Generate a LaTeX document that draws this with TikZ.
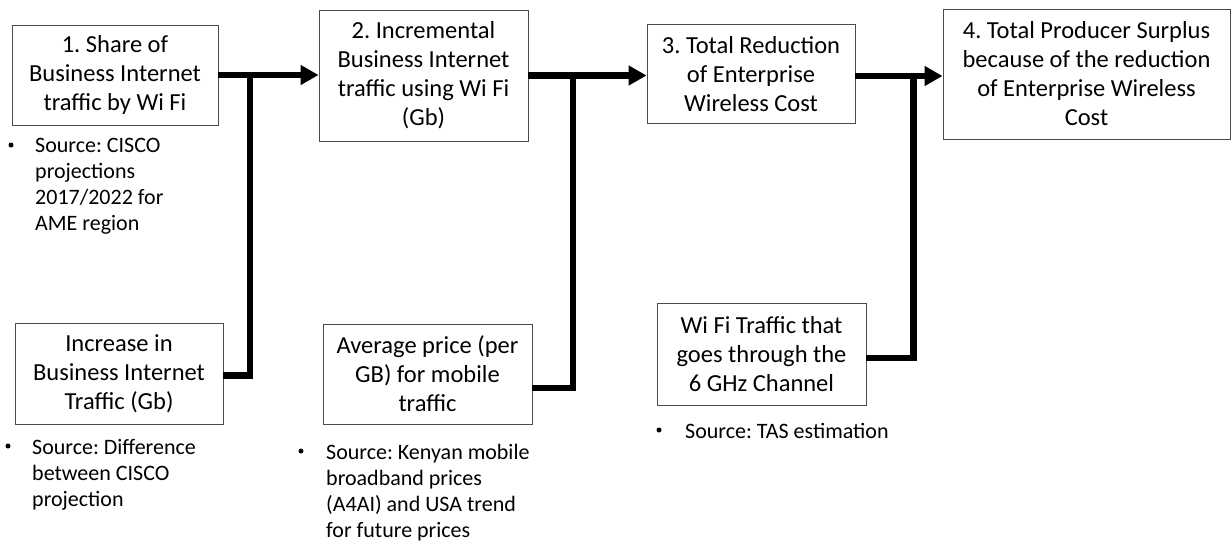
\documentclass[tikz,border=0pt]{standalone}
\usepackage{fontspec}
\setmainfont{Carlito}
\usetikzlibrary{arrows.meta}
\tikzset{
  stepbox/.style={draw=black!70, line width=0.9pt, align=center, inner sep=2pt,
    font=\fontsize{24.5}{29}\selectfont},
  note/.style={anchor=north west, align=left, inner sep=0pt,
    font=\fontsize{22}{26}\selectfont},
  dot/.style={circle, fill, inner sep=0pt, minimum size=5pt},
  link/.style={line width=6.5pt},
  feed/.style={link, -{Triangle[length=18pt,width=19pt]}}
}
\frenchspacing
\begin{document}
\begin{tikzpicture}[x=1pt,y=1pt]
  \useasboundingbox (0,0) rectangle (1231,-541);
  % main chain
  \node[stepbox, minimum width=206pt, minimum height=100pt] (b1) at (115,-75)
    {1. Share of\\Business Internet\\traffic by Wi Fi};
  \node[stepbox, minimum width=209pt, minimum height=131pt] (b2) at (423.5,-75.5)
    {2. Incremental\\Business Internet\\traffic using Wi Fi\\(Gb)};
  \node[stepbox, minimum width=208pt, minimum height=99pt] (b3) at (751,-74)
    {3. Total Reduction\\of Enterprise\\Wireless Cost};
  \node[stepbox, minimum width=287pt, minimum height=130pt] (b4) at (1086.5,-74)
    {4. Total Producer Surplus\\because of the reduction\\of Enterprise Wireless\\Cost};
  % inputs
  \node[stepbox, minimum width=208pt, minimum height=101pt] (b5) at (119,-373.5)
    {Increase in\\Business Internet\\Traffic (Gb)};
  \node[stepbox, minimum width=209pt, minimum height=100pt] (b6) at (427.5,-374)
    {Average price (per\\GB) for mobile\\traffic};
  \node[stepbox, minimum width=209pt, minimum height=102pt] (b7) at (761.5,-354)
    {Wi Fi Traffic that\\goes through the\\6 GHz Channel};
  % sources
  \node[dot] (d1) at (11,-145) {};
  \node[note] (s1) at (35,-138) {Source: CISCO\\projections\\2017/2022 for\\AME region};
  \node[dot] (d5) at (8,-446) {};
  \node[note] (s5) at (32,-439) {Source: Difference\\between CISCO\\projection};
  \node[dot] (d6) at (301,-451) {};
  \node[note] (s6) at (326,-444) {Source: Kenyan mobile\\broadband prices\\(A4AI) and USA trend\\for future prices};
  \node[dot] (d7) at (659,-430) {};
  \node[note] (s7) at (685,-423) {Source: TAS estimation};
  % connectors
  \coordinate (j1) at (250,-75);
  \coordinate (j2) at (573,-75.5);
  \coordinate (j3) at (913.5,-76);
  \draw[feed] (b1.east) -- (b1.east -| b2.west);
  \draw[feed] (b2.east) -- (b2.east -| b3.west);
  \draw[feed] ([yshift=-2pt]b3.east) -- ([yshift=-2pt]b3.east -| b4.west);
  \draw[link] ([yshift=-2pt]b5.east) -| (j1);
  \draw[link] ([yshift=-14pt]b6.east) -| (j2);
  \draw[link] ([yshift=-4pt]b7.east) -| (j3);
\end{tikzpicture}
\end{document}
